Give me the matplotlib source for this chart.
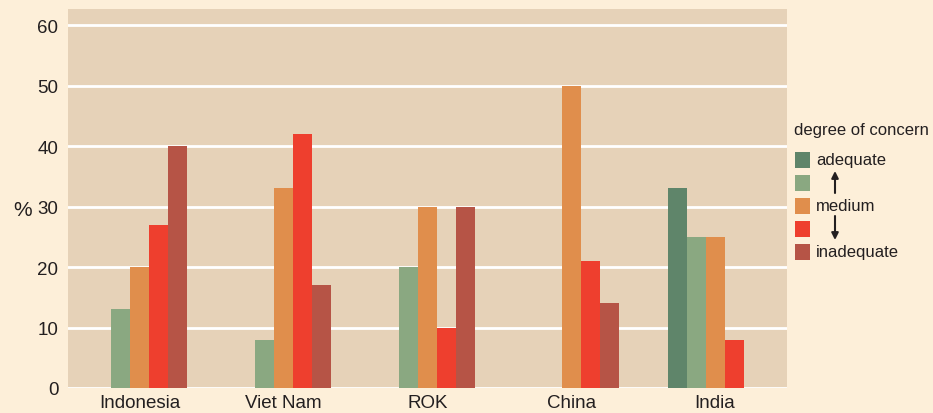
import matplotlib
matplotlib.use("Agg")
import matplotlib.pyplot as plt
from matplotlib.patches import Rectangle, FancyArrowPatch
import numpy as np

plt.rcParams['font.family'] = ['Liberation Sans', 'DejaVu Sans']

countries = ["Indonesia", "Viet Nam", "ROK", "China", "India"]
levels = ["adequate", "", "medium", "", "inadequate"]
adequate = [0, 0, 0, 0, 33]
mostly_adequate = [13, 8, 20, 0, 25]
medium = [20, 33, 30, 50, 25]
mostly_inadequate = [27, 42, 10, 21, 8]
inadequate = [40, 17, 30, 14, 0]
series = [adequate, mostly_adequate, medium, mostly_inadequate, inadequate]
colors = ["#5F856A", "#8AA881", "#E08E4C", "#EE3F2E", "#B65446"]
yticks = [0, 10, 20, 30, 40, 50, 60]

fig = plt.figure(figsize=(9.33, 4.14), dpi=100)
fig.patch.set_facecolor("#FDEFD9")
ax = fig.add_axes([68/933, 25/414, (787-68)/933, (404-25)/414])
ax.set_facecolor("#E6D2B8")

x = np.arange(len(countries))
w = 0.132
for i, (vals, c) in enumerate(zip(series, colors)):
    ax.bar(x + (i - 2) * w, vals, width=w, color=c, zorder=3, linewidth=0)

ax.set_xlim(-0.5, 4.5)
ax.set_ylim(0, 62.65)
ax.set_yticks(yticks)
ax.set_yticklabels([str(t) for t in yticks], fontsize=13.5, color="#231F20")
ax.set_xticks(x)
ax.set_xticklabels(countries, fontsize=13.5, color="#231F20")
ax.tick_params(length=0)
ax.tick_params(axis='y', pad=7)
ax.tick_params(axis='x', pad=4)
ax.yaxis.grid(True, color="white", linewidth=2, zorder=1)
ax.set_axisbelow(True)
for s in ax.spines.values():
    s.set_visible(False)

fig.text(13/933, 1 - 211/414, "%", fontsize=15, color="#231F20", va="center", ha="left")

# legend
W, H = 933, 414
fig.text(794/W, 1 - 131/H, "degree of concern", fontsize=12, color="#231F20", va="center", ha="left")
for i, (c, lab) in enumerate(zip(colors, levels)):
    yc = 161 + i * 23
    fig.patches.append(Rectangle((795/W, 1 - (yc + 8)/H), 15/W, 16/H, transform=fig.transFigure,
                                 facecolor=c, edgecolor="none"))
    if lab:
        fig.text(816/W, 1 - yc/H, lab, fontsize=12, color="#231F20", va="center", ha="left")
fig.patches.append(FancyArrowPatch((835/W, 1 - 194/H), (835/W, 1 - 172/H), transform=fig.transFigure,
                                   arrowstyle="-|>,head_length=4,head_width=2", color="#231F20", lw=1.5,
                                   shrinkA=0, shrinkB=0))
fig.patches.append(FancyArrowPatch((835/W, 1 - 217/H), (835/W, 1 - 241/H), transform=fig.transFigure,
                                   arrowstyle="-|>,head_length=4,head_width=2", color="#231F20", lw=1.5,
                                   shrinkA=0, shrinkB=0))

fig.savefig("out.png", dpi=100, facecolor=fig.get_facecolor())
